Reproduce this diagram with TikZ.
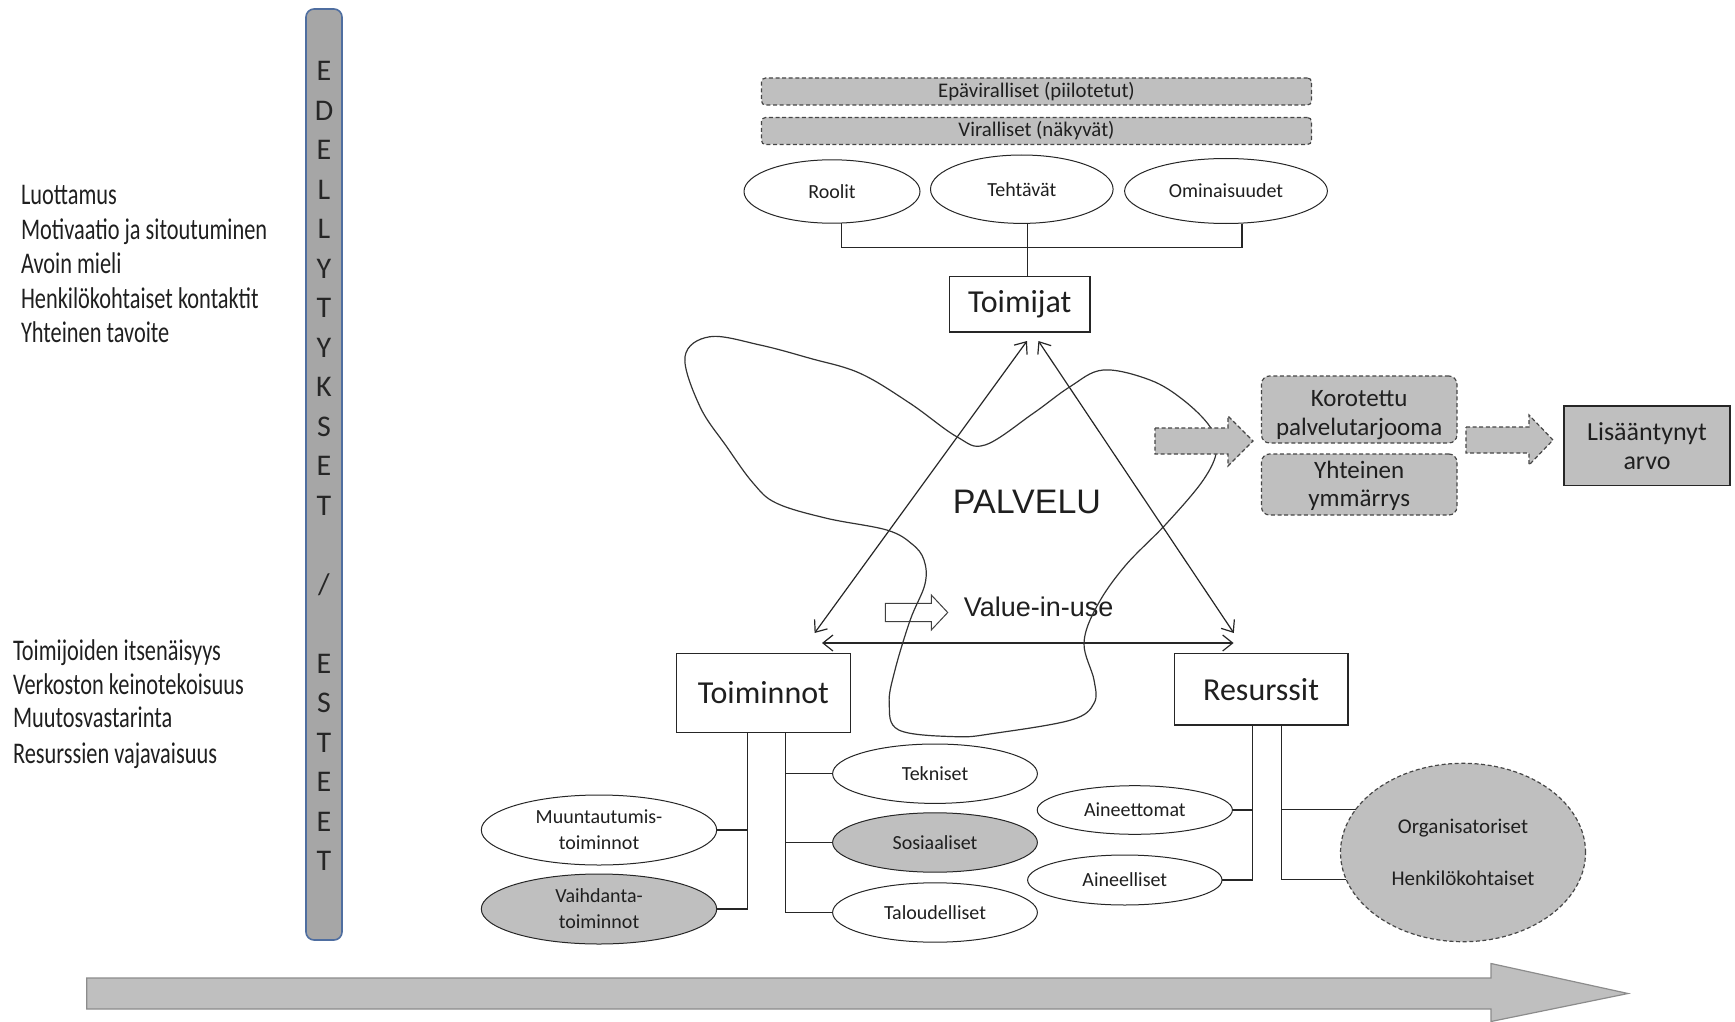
\documentclass[tikz,border=0pt]{standalone}
\usepackage{fontspec}
\setmainfont{Carlito}
\newfontfamily\condfont[FakeStretch=0.745]{Carlito}
\newfontfamily\arialfont{Liberation Sans}
\usetikzlibrary{shapes.geometric,arrows.meta,calc}
\definecolor{fillgray}{RGB}{191,191,191}
\definecolor{bargray}{RGB}{166,166,166}
\definecolor{barblue}{RGB}{79,110,160}
\definecolor{dashgray}{RGB}{70,70,70}
\begin{document}
\begin{tikzpicture}[x=0.5pt,y=-0.5pt,
  every node/.style={inner sep=0pt,outer sep=0pt,text=black!88},
  link/.style={line width=0.6pt,draw=black!85},
  oval/.style={draw=black!85,ellipse,line width=0.5pt,fill=white,align=center,font=\fontsize{10}{13}\selectfont},
  grayoval/.style={oval,fill=fillgray},
  dbar/.style={draw=dashgray,dash pattern=on 2pt off 1.3pt,fill=fillgray,rounded corners=2pt,line width=0.6pt,font=\fontsize{10.4}{12}\selectfont},
  dbox/.style={dbar,rounded corners=4pt},
  boxtxt/.style={anchor=base,font=\fontsize{12.5}{14.5}\selectfont},
  mainbox/.style={draw=black!85,rectangle,fill=white,line width=0.6pt,font=\fontsize{16}{18}\selectfont},
  listtxt/.style={anchor=base west,font=\condfont\fontsize{15}{17}\selectfont},
  barletter/.style={anchor=base,font=\fontsize{15}{17}\selectfont,text=black!85},
  tri/.style={line width=0.6pt,draw=black!85,{Straight Barb[length=5pt,width=8pt]}-{Straight Barb[length=5pt,width=8pt]}},
  dasharrow/.style={draw=dashgray,dash pattern=on 2pt off 1.3pt,fill=fillgray,line width=0.6pt}
]
\useasboundingbox (0,0) rectangle (1735,1022);

% left lists
\node[listtxt] (p1) at (21,204.5) {Luottamus};
\node[listtxt] (p2) at (21,239) {Motivaatio ja sitoutuminen};
\node[listtxt] (p3) at (21,273.5) {Avoin mieli};
\node[listtxt] (p4) at (21,308) {Henkilökohtaiset kontaktit};
\node[listtxt] (p5) at (21,342.5) {Yhteinen tavoite};
\node[listtxt] (e1) at (13,660) {Toimijoiden itsenäisyys};
\node[listtxt] (e2) at (13,694.3) {Verkoston keinotekoisuus};
\node[listtxt] (e3) at (13,727.5) {Muutosvastarinta};
\node[listtxt] (e4) at (13,763) {Resurssien vajavaisuus};

% vertical bar
\node[draw=barblue,fill=bargray,rounded corners=4pt,minimum width=18pt,minimum height=465.5pt,line width=0.8pt] (bar) at (324,474.5) {};
\foreach \i/\ch in {0/E,1/D,2/E,3/L,4/L,5/Y,6/T,7/Y,8/K,9/S,10/E,11/T,15/E,16/S,17/T,18/E,19/E,20/T}
  \node[barletter] (bl\i) at (324,80.8+39.5*\i) {\ch};
\node[barletter] (slash) at (324,80.8+39.5*13) {/};

% top bars
\node[dbar,minimum width=275pt,minimum height=13.5pt] (epa) at (1036.5,91.5) {Epäviralliset (piilotetut)};
\node[dbar,minimum width=275pt,minimum height=13.5pt] (vir) at (1036.5,131) {Viralliset (näkyvät)};

% top ellipses
\node[oval,minimum width=88pt,minimum height=31.7pt] (roolit) at (832,191.5) {Roolit};
\node[oval,minimum width=91.3pt,minimum height=34.2pt] (teht) at (1021.8,189.2) {Tehtävät};
\node[oval,minimum width=101.4pt,minimum height=32.5pt] (omin) at (1226,191) {Ominaisuudet};

\node[mainbox,minimum width=70.3pt,minimum height=27.7pt] (toimijat) at (1019.7,304.3) {Toimijat};

\draw[link] ([xshift=4.7pt]roolit.south) -- ++(0,24) -| ([xshift=8pt]omin.south);
\draw[link] ([xshift=3pt]teht.south) -- ([xshift=3pt]teht.south |- toimijat.north);

% main boxes
\node[mainbox,minimum width=86.7pt,minimum height=39.7pt] (toiminnot) at (763.4,693) {Toiminnot};
\node[mainbox,minimum width=86.9pt,minimum height=35.85pt] (resurssit) at (1261.1,689.2) {Resurssit};

% white small arrow
\draw[draw=black!75,fill=white,line width=0.5pt] (885.4,603.3) -- (931.3,603.3) -- (931.3,595) -- (947.7,612.5) -- (931.3,630) -- (931.3,621.7) -- (885.4,621.7) -- cycle;

% texts
\node[anchor=base,font=\arialfont\fontsize{17}{20}\selectfont] (palvelu) at (1027,513) {PALVELU};
\node[anchor=base west,font=\arialfont\fontsize{13.5}{16}\selectfont] (viu) at (963.8,616.7) {Value-in-use};

% triangle arrows
\coordinate (tA) at (1027,341);
\coordinate (tB) at (1038.4,341);
\coordinate (lL) at (814.6,633);
\coordinate (lR) at (1233.8,633);
\coordinate (hL) at (822,643);
\coordinate (hR) at (1233.6,643);
\draw[tri] (tA) -- (lL);
\draw[tri] (tB) -- (lR);
\draw[tri] (hL) -- (hR);

% free-form loop
\draw[line width=0.6pt,draw=black!80] plot[smooth cycle,tension=0.6] coordinates {
(710,336.7) (760,345) (810,358.3) (860,373.3) (910,403.3) (956.7,436.7) (985,445)
(1033.3,413.3) (1070,386.7) (1103.3,370) (1150,380) (1183.3,400) (1210,426.7)
(1216.7,450) (1203.3,480) (1166.7,523.3) (1125,566) (1097,606) (1084,643)
(1094,680) (1094,703.3) (1071,720)
(994.4,733.3) (956.2,736.7) (898.8,730) (889.2,703.3) (895,670) (910.2,620) (925,584)
(924,560) (912,544) (886.7,530) (826.7,518.3) (776.7,503.3) (753.3,483.3) (726.7,446.7)
(700,406.7) (685,356.7)};

% dashed arrows
\draw[dasharrow] (1155,428) -- (1228,428) -- (1228,416) -- (1253,441) -- (1228,466) -- (1228,454) -- (1155,454) -- cycle;
\draw[dasharrow] (1466,427) -- (1529,427) -- (1529,415) -- (1553,440) -- (1529,465) -- (1529,453) -- (1466,453) -- cycle;

\node[dbox,minimum width=97.7pt,minimum height=33.5pt] (korot) at (1359.2,409.5) {};
\node[boxtxt] (korot1) at (1359.2,406.7) {Korotettu};
\node[boxtxt] (korot2) at (1359.2,435.5) {palvelutarjooma};
\node[dbox,minimum width=97.7pt,minimum height=30.5pt] (yht) at (1359.2,484.5) {};
\node[boxtxt] (yht1) at (1359.2,478.3) {Yhteinen};
\node[boxtxt] (yht2) at (1359.2,506.7) {ymmärrys};
\node[draw=black!85,fill=fillgray,line width=0.6pt,minimum width=83pt,minimum height=39.8pt,align=center,font=\fontsize{13}{14.5}\selectfont] (lisa) at (1647,445.7) {Lisääntynyt\\arvo};

% lower ellipses
\node[oval,minimum width=102.4pt,minimum height=29.7pt] (tekn) at (935,773.7) {Tekniset};
\node[grayoval,minimum width=102.4pt,minimum height=29.7pt] (sosi) at (935,842.5) {Sosiaaliset};
\node[oval,minimum width=102.4pt,minimum height=29.7pt] (talo) at (935,912.5) {Taloudelliset};
\node[oval,minimum width=117.7pt,minimum height=35pt] (muun) at (599,830) {Muuntautumis-\\toiminnot};
\node[grayoval,minimum width=117.7pt,minimum height=35pt] (vaih) at (599,909) {Vaihdanta-\\toiminnot};
\node[oval,minimum width=97.6pt,minimum height=24.3pt] (ainet) at (1134.8,810) {Aineettomat};
\node[oval,minimum width=97.2pt,minimum height=25pt] (ainel) at (1124.8,880) {Aineelliset};
\node[ellipse,draw=dashgray,dash pattern=on 2pt off 1.3pt,fill=fillgray,line width=0.6pt,minimum width=122.5pt,minimum height=89.2pt,align=center,font=\fontsize{10.5}{25.8}\selectfont] (bigE) at (1463,852.5) {Organisatoriset\\Henkilökohtaiset};

% connectors Toiminnot
\coordinate (TL) at ([xshift=-8pt]toiminnot.south);
\coordinate (TR) at ([xshift=11.2pt]toiminnot.south);
\draw[link] (TL) |- (vaih.east);
\draw[link] (muun.east) -- (muun.east -| TL);
\draw[link] (TR) |- (talo.west);
\draw[link] (tekn.west) -- (tekn.west -| TR);
\draw[link] (sosi.west) -- (sosi.west -| TR);

% connectors Resurssit
\coordinate (RL) at ([xshift=-4.2pt]resurssit.south);
\coordinate (RR) at ([xshift=10.15pt]resurssit.south);
\draw[link] (RL) |- (ainel.east);
\draw[link] (ainet.east) -- (ainet.east -| RL);
\draw[link] (RR) |- (bigE.193.3);
\draw[link] (bigE.158.5) -- (bigE.158.5 -| RR);

% bottom big arrow
\draw[draw=black!45,fill=fillgray,line width=0.6pt] (86.7,978) -- (1491,978) -- (1491,963.5) -- (1628,993.5) -- (1491,1021.5) -- (1491,1009) -- (86.7,1009) -- cycle;
\end{tikzpicture}
\end{document}
